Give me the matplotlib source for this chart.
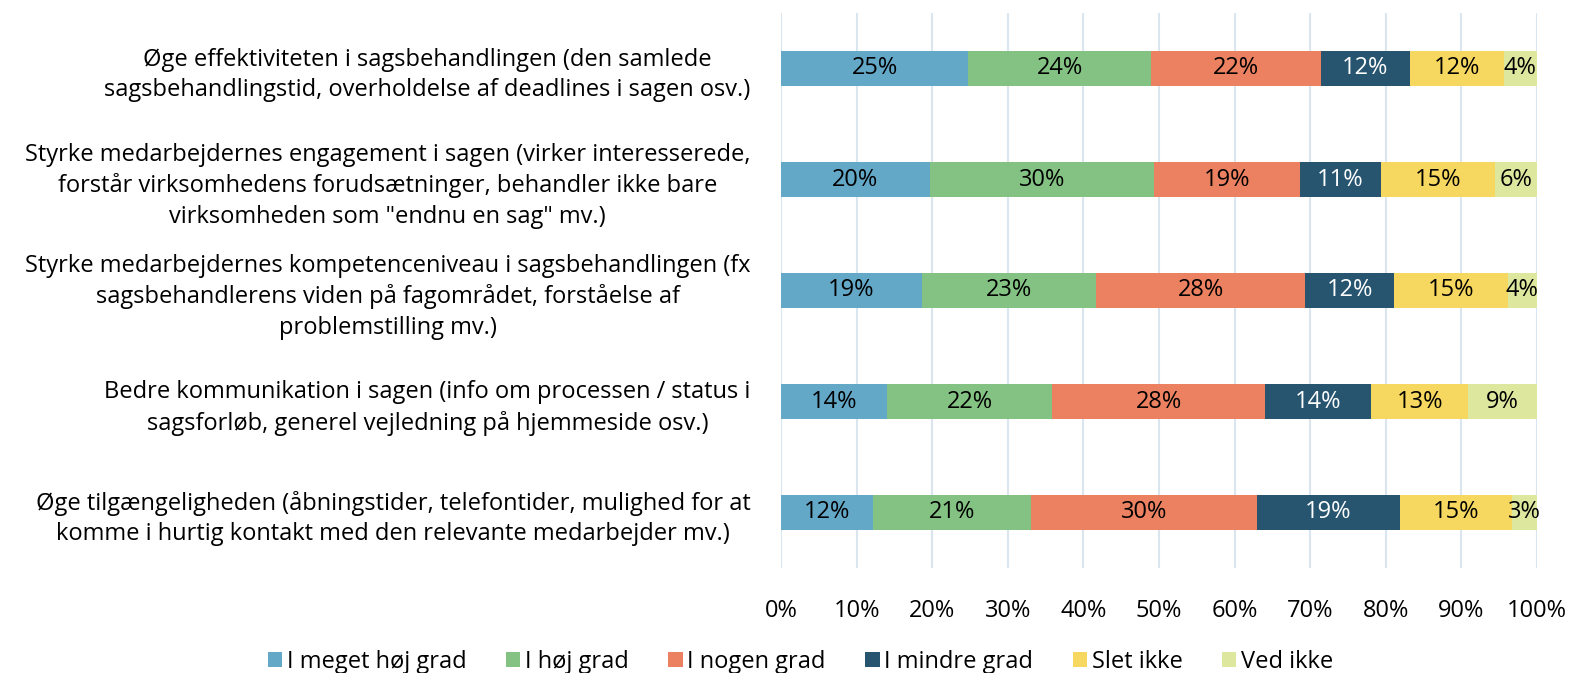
import matplotlib
matplotlib.use("Agg")
import matplotlib.pyplot as plt
import numpy as np

plt.rcParams['font.family'] = ['Open Sans', 'DejaVu Sans']

categories = [
    "Øge effektiviteten i sagsbehandlingen (den samlede\nsagsbehandlingstid, overholdelse af deadlines i sagen osv.)",
    "Styrke medarbejdernes engagement i sagen (virker interesserede,\nforstår virksomhedens forudsætninger, behandler ikke bare\nvirksomheden som \"endnu en sag\" mv.)",
    "Styrke medarbejdernes kompetenceniveau i sagsbehandlingen (fx\nsagsbehandlerens viden på fagområdet, forståelse af\nproblemstilling mv.)",
    "Bedre kommunikation i sagen (info om processen / status i\nsagsforløb, generel vejledning på hjemmeside osv.)",
    "Øge tilgængeligheden (åbningstider, telefontider, mulighed for at\nkomme i hurtig kontakt med den relevante medarbejder mv.)",
]
series_names = ["I meget høj grad", "I høj grad", "I nogen grad", "I mindre grad", "Slet ikke", "Ved ikke"]
meget_hoej = [24.8, 19.7, 18.6, 14.0, 12.2]
hoej = [24.2, 29.7, 23.1, 21.9, 20.9]
nogen = [22.4, 19.2, 27.6, 28.1, 29.8]
mindre = [11.8, 10.7, 11.8, 14.1, 19.0]
slet_ikke = [12.4, 15.1, 15.0, 12.8, 14.8]
ved_ikke = [4.4, 5.6, 3.9, 9.1, 3.3]
x_ticks = [0, 10, 20, 30, 40, 50, 60, 70, 80, 90, 100]

colors = ["#64A8C8", "#84C283", "#EB8160", "#275570", "#F6D75F", "#DDE89E"]
text_colors = ["black", "black", "black", "white", "black", "black"]

FS = 17

fig = plt.figure(figsize=(15.7, 6.73), dpi=100)
ax = fig.add_axes([781/1570, 1-568/673, (1537-781)/1570, (568-13)/673])

y = np.arange(len(categories))
left = np.zeros(len(categories))
all_series = [meget_hoej, hoej, nogen, mindre, slet_ikke, ved_ikke]
for name, vals, c, tc in zip(series_names, all_series, colors, text_colors):
    vals = np.array(vals)
    bars = ax.barh(y, vals, left=left, height=0.315, color=c, label=name, zorder=3)
    for b, v, l in zip(bars, vals, left):
        ax.text(l + v/2, b.get_y() + b.get_height()/2, f"{v:.0f}%", ha='center', va='center',
                color=tc, fontsize=FS, zorder=4)
    left += vals

ax.set_xlim(0, 100)
ax.set_ylim(4.5, -0.5)
ax.set_xticks(x_ticks)
ax.set_xticklabels([f"{t}%" for t in x_ticks], fontsize=FS)
ax.set_yticks(y)
ax.set_yticklabels(categories, fontsize=FS, multialignment='center', linespacing=1.35)
ax.tick_params(axis='both', length=0)
ax.tick_params(axis='y', pad=22)
ax.tick_params(axis='x', pad=22)
ax.grid(axis='x', color='#DAE6EF', linewidth=1.5, zorder=0)
for s in ax.spines.values():
    s.set_visible(False)

fig.legend(loc='center', bbox_to_anchor=(0.51, 0.016), ncol=6, frameon=False, fontsize=FS,
           handlelength=0.6, handleheight=0.6, handletextpad=0.2, columnspacing=1.68)

fig.savefig("out.png", dpi=100)
